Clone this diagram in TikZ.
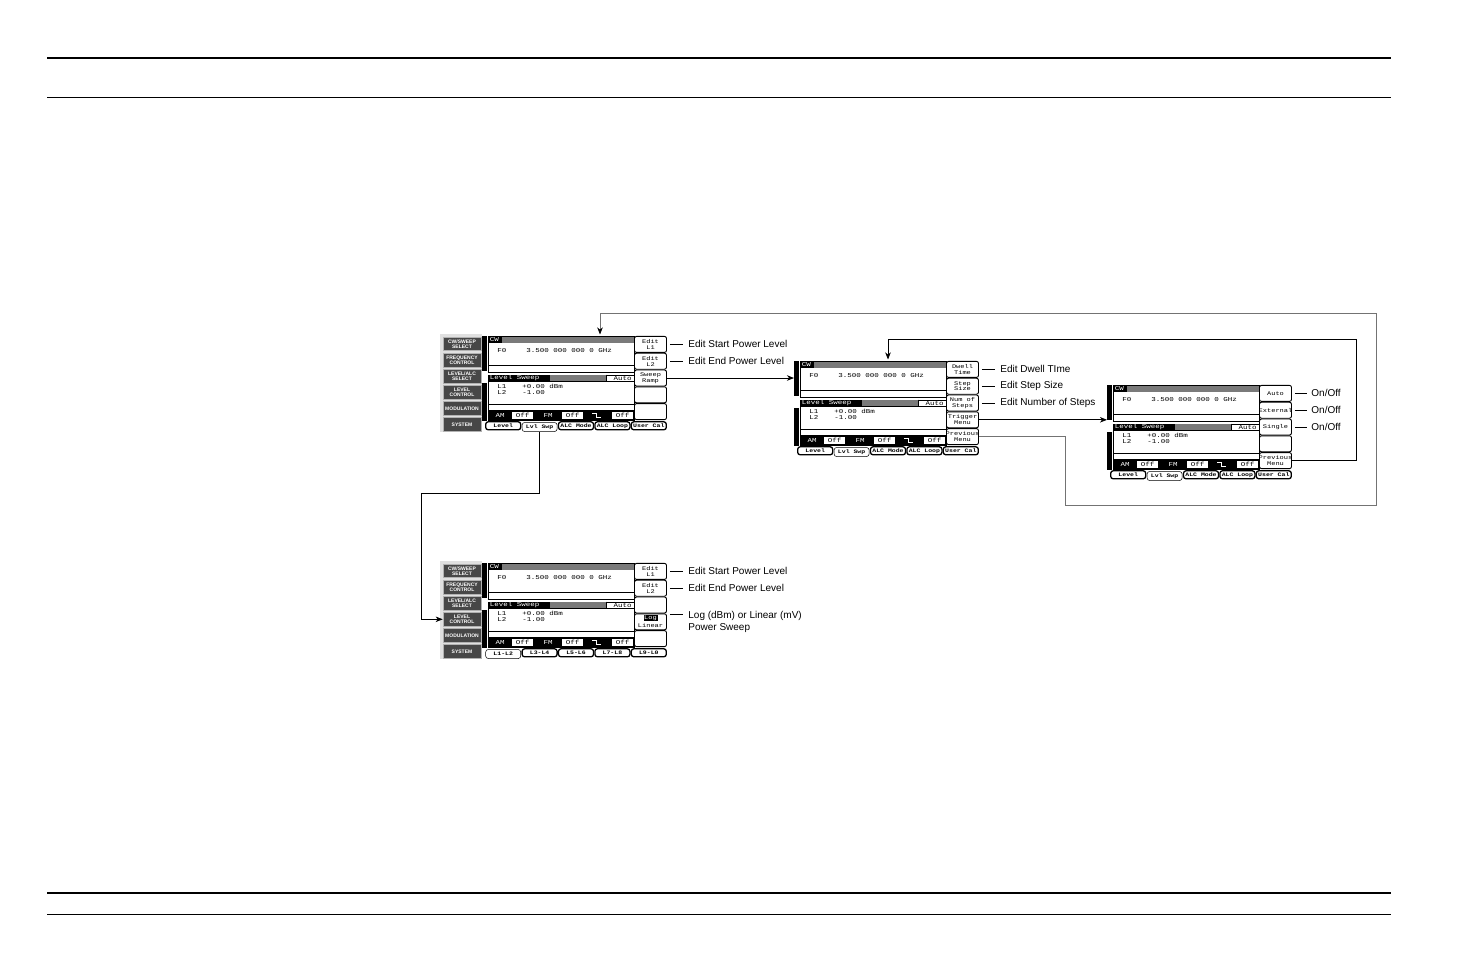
\documentclass[tikz,border=0pt]{standalone}
\usepackage{fontspec}
\setmainfont{Liberation Sans}
\newfontfamily\lcdfont[FakeStretch=1.25]{Liberation Mono}
\usetikzlibrary{arrows.meta,positioning,calc}

\tikzset{
  lcdtxt/.style={font=\lcdfont\fontsize{6}{6}\selectfont, inner sep=0pt},
  keytxt/.style={font=\lcdfont\fontsize{5.6}{5.8}\selectfont, align=center, inner sep=0pt},
  tabtxt/.style={font=\lcdfont\bfseries\fontsize{5.2}{6}\selectfont, inner sep=0pt},
  field/.style={draw, line width=0.8pt, inner sep=0pt, minimum width=146pt, anchor=north west},
  softkey/.style={draw, line width=0.9pt, rounded corners=2pt, minimum width=32pt, minimum height=16pt, inner sep=0pt},
  tabbox/.style={draw, line width=1.3pt, rounded corners=2.5pt, minimum width=35pt, minimum height=8pt, inner sep=0pt, fill=white},
  padkey/.style={fill=black!72, draw=black!30, line width=0.6pt, text=white, minimum width=38pt, minimum height=13.5pt, inner sep=0pt, align=center, font=\fontsize{5}{5.4}\selectfont\bfseries},
  hatch/.style={fill=black!52},
  callout/.style={font=\fontsize{10}{12.5}\selectfont, inner sep=2pt, align=left},
  loopline/.style={black!55, -{Stealth[length=7pt,width=5.5pt,inset=2pt,black]}},
  pics/keypad/.style={code={
    \fill[black!12] (-48,-2) rectangle (-6,96);
    \foreach \lab [count=\i] in {CW/SWEEP\\SELECT,FREQUENCY\\CONTROL,LEVEL/ALC\\SELECT,LEVEL\\CONTROL,MODULATION,SYSTEM}
      \node[padkey] (-b\i) at (-26,{8+16.1*(\i-1)}) {\lab};
  }},
  pics/lcd/.style 2 args={code={
    % bezel
    \fill (-6,0) rectangle (-1,35);
    \fill (-6,47) rectangle (-1,85);
    \coordinate (-edge) at (-6,17);
    % upper field
    \node[field, minimum height=36pt] (-up) at (0,0) {};
    \fill (0,0) rectangle (14,7);
    \fill[hatch] (14,0.6) rectangle (145.6,6.6);
    \node[lcdtxt, text=white, anchor=west] (-cw) at (1.5,3.6) {CW};
    \draw[line width=0.5pt] (0,29) -- (146,29);
    \node[lcdtxt, anchor=west] (-f0) at (9,14.7) {F0};
    \node[lcdtxt, anchor=west] (-freq) at (38,14.7) {3.500 000 000 0 GHz};
    % lower field
    \node[field, minimum height=45pt] (-lo) at (0,38.5) {};
    \fill (0,38.5) rectangle (62,45.7);
    \fill[hatch] (62,39.1) rectangle (118,45.1);
    \draw[line width=0.5pt] (118,38.5) -- (118,45.7) (0,45.7) -- (146,45.7);
    \node[lcdtxt, text=white, anchor=west] (-hd) at (1.5,42.1) {Level Sweep};
    \node[lcdtxt, anchor=east] (-auto) at (144,42.1) {Auto};
    \node[lcdtxt, anchor=west] (-l1) at (9,50.4) {L1};
    \node[lcdtxt, anchor=west] (-v1) at (34,50.4) {+0.00 dBm};
    \node[lcdtxt, anchor=west] (-l2) at (9,56.6) {L2};
    \node[lcdtxt, anchor=west] (-v2) at (34,56.6) {-1.00};
    \draw[line width=0.5pt] (0,68) -- (146,68) (0,74) -- (146,74);
    % status line
    \fill (0,75.3) rectangle (146,83.5);
    \node[lcdtxt, text=white] (-am) at (12,79.4) {AM};
    \node[lcdtxt, text=white] (-fm) at (60,79.4) {FM};
    \draw[white, line width=0.7pt] (104,77.2) -- (108,77.2) -- (108,81.6) -- (113,81.6);
    \foreach \ox in {24,74,124} {
      \fill[white] (\ox,76.3) rectangle ({\ox+21},82.5);
      \node[lcdtxt] (-off\ox) at ({\ox+10.5},79.4) {Off};
    }
    % soft keys
    \foreach \i in {1,...,5}
      \node[softkey] (-k\i) at (162.5,{8.4+16.8*(\i-1)}) {};
    % tabs
    \foreach \lab [count=\i] in {#1} {
      \ifnum\i=#2
        \node[tabbox, line width=0.5pt, minimum height=9pt] (-t\i) at ({-3+36.4*(\i-0.5)},91) {};
      \else
        \node[tabbox] (-t\i) at ({-3+36.4*(\i-0.5)},89.8) {};
      \fi
      \node[tabtxt] (-n\i) at (-t\i) {\lab};
    }
  }}
}

\begin{document}
\begin{tikzpicture}[x=1pt, y=-1pt, line width=0.9pt, >={Stealth[length=7pt,width=5.5pt,inset=2pt]}]
\useasboundingbox (0,0) rectangle (1475,954);

% page rules
\draw[line width=1.2pt] (47,58) -- (1391,58);
\draw[line width=1pt] (47,97) -- (1391,97);
\draw[line width=2pt] (47,893) -- (1391,893);
\draw[line width=1pt] (47,914) -- (1391,914);

% screens
\pic (s1p) at (488,336) {keypad};
\pic (s1) at (488,336) {lcd={Level,Lvl Swp,ALC Mode,ALC Loop,User Cal}{2}};
\pic (s2) at (800,361) {lcd={Level,Lvl Swp,ALC Mode,ALC Loop,User Cal}{2}};
\pic (s3) at (1113,385) {lcd={Level,Lvl Swp,ALC Mode,ALC Loop,User Cal}{2}};
\pic (s4p) at (488,563) {keypad};
\pic (s4) at (488,563) {lcd={L1-L2,L3-L4,L5-L6,L7-L8,L9-L0}{1}};

% soft key labels
\foreach \k/\lab in {1/Edit\\L1, 2/Edit\\L2, 3/Sweep\\Ramp}
  \node[keytxt] (s1-x\k) at (s1-k\k) {\lab};
\foreach \k/\lab in {1/Dwell\\Time, 2/Step\\Size, 3/Num of\\Steps, 4/Trigger\\Menu, 5/Previous\\Menu}
  \node[keytxt] (s2-x\k) at (s2-k\k) {\lab};
\foreach \k/\lab in {1/Auto, 2/External, 3/Single, 5/Previous\\Menu}
  \node[keytxt] (s3-x\k) at (s3-k\k) {\lab};
\foreach \k/\lab in {1/Edit\\L1, 2/Edit\\L2}
  \node[keytxt] (s4-x\k) at (s4-k\k) {\lab};
\node[keytxt, fill=black, text=white, inner sep=0.7pt, anchor=south] (s4-log) at ($(s4-k4.center)+(0,-0.3)$) {Log};
\node[keytxt, anchor=north] (s4-lin) at ($(s4-k4.center)+(0,1)$) {Linear};

% callouts
\node[callout, right=19pt of s1-k1] (s1-c1) {Edit Start Power Level};
\node[callout, right=19pt of s1-k2] (s1-c2) {Edit End Power Level};
\node[callout, right=19pt of s2-k1] (s2-c1) {Edit Dwell TIme};
\node[callout, right=19pt of s2-k2] (s2-c2) {Edit Step Size};
\node[callout, right=19pt of s2-k3] (s2-c3) {Edit Number of Steps};
\node[callout, right=17pt of s3-k1] (s3-c1) {On/Off};
\node[callout, right=17pt of s3-k2] (s3-c2) {On/Off};
\node[callout, right=17pt of s3-k3] (s3-c3) {On/Off};
\node[callout, right=19pt of s4-k1] (s4-c1) {Edit Start Power Level};
\node[callout, right=19pt of s4-k2] (s4-c2) {Edit End Power Level};
\node[callout, right=19pt of s4-k4] (s4-c4) {Log (dBm) or Linear (mV)\\Power Sweep};
\coordinate (s4-c4l) at ($(s4-c4.north west)+(0,6.3)$);

\foreach \k in {1,2} \draw[shorten <=3pt, shorten >=3pt] (s1-k\k) -- (s1-c\k);
\foreach \k in {1,2,3} \draw[shorten <=3pt, shorten >=3pt] (s2-k\k) -- (s2-c\k);
\foreach \k in {1,2,3} \draw[shorten <=3pt, shorten >=2pt] (s3-k\k) -- (s3-c\k);
\foreach \k in {1,2} \draw[shorten <=3pt, shorten >=3pt] (s4-k\k) -- (s4-c\k);
\draw[shorten <=3pt, shorten >=3pt] (s4-k4.east |- s4-c4l) -- (s4-c4l);

% menu flow
\coordinate (s1-in) at ($(s1-up.north west)+(112,-1.5)$);
\coordinate (s2-in) at ($(s2-up.north west)+(88,-1.5)$);
\draw[->] (s1-k3) -- (s1-k3 -| s2-edge);
\draw[->] (s2-k4) -- (s2-k4 -| s3-edge);
\draw[loopline] (s2-k5) -| (1065,505) -| (1376,313) -| (s1-in);
\draw[->] (s3-k5) -| (1356,339) -| (s2-in);
\draw[->] (s1-t2) |- (421,493) |- (s4p-b4);
\end{tikzpicture}
\end{document}
